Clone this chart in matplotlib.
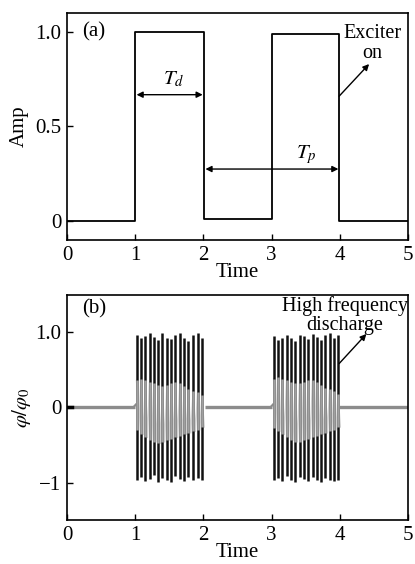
import matplotlib
matplotlib.use('Agg')
import matplotlib.pyplot as plt

plt.rcParams['font.family'] = 'Liberation Serif'
plt.rcParams['mathtext.fontset'] = 'stix'
plt.rcParams['font.size'] = 15

# (a) exciter square wave
sq_t = [0, 1.0, 1.0, 2.01, 2.01, 3.0, 3.0, 3.99, 3.99, 5]
sq_a = [0, 0, 1.0, 1.0, 0.01, 0.01, 0.99, 0.99, 0, 0]

# (b) discharge bursts: spike times, spike tops, spike bottoms, inner grey swing
b1_t = [1.02, 1.085, 1.15, 1.21, 1.275, 1.34, 1.40, 1.465,
        1.53, 1.59, 1.655, 1.72, 1.78, 1.85, 1.915, 1.98]
b1_top = [0.97, 0.93, 0.95, 0.99, 0.94, 0.90, 0.99, 0.93,
          0.91, 0.96, 0.99, 0.93, 0.89, 0.97, 0.99, 0.93]
b1_bot = [-0.97, -0.92, -0.98, -0.95, -0.90, -0.99, -0.94, -0.96,
          -0.99, -0.91, -0.95, -0.98, -0.93, -0.97, -0.94, -0.96]
b1_gup = [0.36, 0.38, 0.36, 0.34, 0.32, 0.30, 0.28, 0.30,
          0.32, 0.34, 0.32, 0.28, 0.24, 0.22, 0.20, 0.16]
b1_gdn = [-0.30, -0.36, -0.40, -0.44, -0.46, -0.48, -0.46, -0.44,
          -0.42, -0.40, -0.38, -0.36, -0.34, -0.32, -0.30, -0.26]

b2_t = [3.03, 3.09, 3.155, 3.22, 3.28, 3.345, 3.41, 3.47,
        3.535, 3.60, 3.66, 3.725, 3.79, 3.85, 3.915, 3.975]
b2_top = [0.95, 0.90, 0.93, 0.96, 0.92, 0.89, 0.97, 0.95,
          0.91, 0.98, 0.94, 0.90, 0.96, 0.99, 0.92, 0.97]
b2_bot = [-0.96, -0.94, -0.98, -0.91, -0.97, -0.99, -0.93, -0.95,
          -0.98, -0.92, -0.97, -0.99, -0.94, -0.96, -0.98, -0.97]
b2_gup = [0.38, 0.40, 0.38, 0.36, 0.34, 0.32, 0.32, 0.34,
          0.36, 0.36, 0.34, 0.30, 0.26, 0.24, 0.22, 0.18]
b2_gdn = [-0.28, -0.32, -0.36, -0.40, -0.44, -0.46, -0.46, -0.44,
          -0.42, -0.40, -0.38, -0.36, -0.34, -0.32, -0.30, -0.26]

base_segments = [(0, 1.0), (2.02, 3.0), (3.99, 5)]


def zigzag(times, ups, downs):
    xs, ys = [], []
    for i in range(len(times)):
        xs.append(times[i])
        ys.append(ups[i])
        nxt = times[i + 1] if i + 1 < len(times) else times[i] + 0.064
        xs.append((times[i] + nxt) / 2)
        ys.append(downs[i])
    return xs, ys


fig = plt.figure(figsize=(4.15, 5.64), dpi=100)
ax1 = fig.add_axes([0.1614, 0.5745, 0.8217, 0.4025])
ax2 = fig.add_axes([0.1614, 0.078, 0.8217, 0.399])

ax1.plot(sq_t, sq_a, color='black', lw=1.3)
ax1.annotate('', xy=(1.02, 0.668), xytext=(1.99, 0.668),
             arrowprops=dict(arrowstyle='<|-|>', color='black', lw=1.0,
                             mutation_scale=9, shrinkA=0, shrinkB=0))
ax1.text(1.56, 0.75, r'$T_d$', ha='center', va='center', fontsize=15)
ax1.annotate('', xy=(2.03, 0.275), xytext=(3.98, 0.275),
             arrowprops=dict(arrowstyle='<|-|>', color='black', lw=1.0,
                             mutation_scale=9, shrinkA=0, shrinkB=0))
ax1.text(3.51, 0.35, r'$T_p$', ha='center', va='center', fontsize=15)
ax1.annotate('', xy=(4.43, 0.83), xytext=(3.99, 0.66),
             arrowprops=dict(arrowstyle='-|>', color='black', lw=1.0,
                             mutation_scale=9, shrinkA=0, shrinkB=0))
ax1.text(4.48, 0.94, 'Exciter\non', ha='center', va='center',
         linespacing=1.05, fontsize=14.5)
ax1.text(0.22, 1.0, '(a)', ha='left', va='center')
ax1.set_xlim(0, 5)
ax1.set_ylim(-0.1, 1.1)
ax1.set_yticks([0, 0.5, 1.0])
ax1.set_yticklabels(['0', '0.5', '1.0'])
ax1.set_ylabel('Amp', labelpad=5)
ax1.set_xlabel('Time', labelpad=-1)

for t0, t1 in base_segments:
    ax2.plot([t0, t1], [0, 0], color='#8c8c8c', lw=2.4, solid_capstyle='butt')
ax2.plot([0, 0.07], [0, 0], color='black', lw=2.5)
for bt, bu, bd, gu, gd in [(b1_t, b1_top, b1_bot, b1_gup, b1_gdn),
                           (b2_t, b2_top, b2_bot, b2_gup, b2_gdn)]:
    ax2.plot([bt[0] - 0.05, bt[0] - 0.01], [0, 0.04], color='#8c8c8c', lw=1.5)
    gx, gy = zigzag(bt, gu, gd)
    ax2.plot(gx, gy, color='#cfcfcf', lw=1.0)
    ax2.vlines(bt, bd, bu, color='#111111', lw=1.8)
    ax2.vlines(bt, gd, gu, color='#a0a0a0', lw=1.9)
ax2.annotate('', xy=(4.39, 0.98), xytext=(3.99, 0.585),
             arrowprops=dict(arrowstyle='-|>', color='black', lw=1.0,
                             mutation_scale=9, shrinkA=0, shrinkB=0))
ax2.text(4.07, 1.23, 'High frequency\ndischarge', ha='center', va='center',
         linespacing=1.0, fontsize=14.5)
ax2.text(0.22, 1.31, '(b)', ha='left', va='center')
ax2.set_xlim(0, 5)
ax2.set_ylim(-1.5, 1.5)
ax2.set_yticks([-1, 0, 1.0])
ax2.set_yticklabels(['\u22121', '0', '1.0'])
ax2.set_ylabel(r'$\varphi/\varphi_0$', labelpad=2)
ax2.set_xlabel('Time', labelpad=-1)

for ax in (ax1, ax2):
    ax.set_xticks([0, 1, 2, 3, 4, 5])
    ax.tick_params(direction='in', length=4, width=1.0, top=False, right=False,
                   labelsize=15, pad=4)
    for s in ax.spines.values():
        s.set_linewidth(1.2)

fig.savefig('out.png', dpi=100)
